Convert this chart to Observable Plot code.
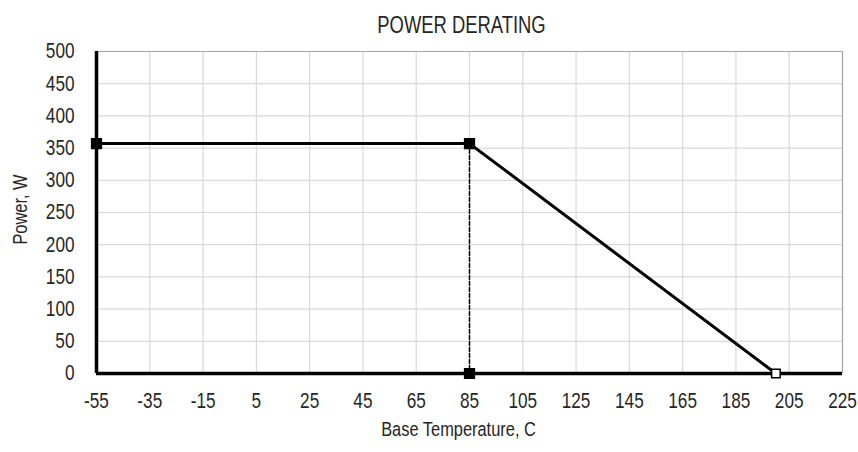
<!DOCTYPE html>
<html>
<head>
<meta charset="utf-8">
<script src="https://cdn.jsdelivr.net/npm/d3@7"></script>
<script src="https://cdn.jsdelivr.net/npm/@observablehq/plot@0.6"></script>
<style>
  html, body { margin: 0; padding: 0; background: #fff; }
  #chart svg { display: block; }
</style>
</head>
<body>
<div id="chart"></div>
<script>
const titleText = "POWER DERATING";
const xLabel = "Base Temperature, C";
const yLabel = "Power, W";
const xTicks = [-55, -35, -15, 5, 25, 45, 65, 85, 105, 125, 145, 165, 185, 205, 225];
const yTicks = [0, 50, 100, 150, 200, 250, 300, 350, 400, 450, 500];
const curveTemp = [-55, 85, 200];
const curvePower = [357, 357, 0];
const dropTemp = [85, 85];
const dropPower = [357, 0];
const filledTemp = [-55, 85, 85];
const filledPower = [357, 357, 0];
const openTemp = [200];
const openPower = [0];

const FONT = "'Liberation Sans', Arial, sans-serif";
const SQUEEZE = 0.8;

const curve = curveTemp.map((t, i) => ({t, p: curvePower[i]}));
const drop = dropTemp.map((t, i) => ({t, p: dropPower[i]}));
const filled = filledTemp.map((t, i) => ({t, p: filledPower[i]}));
const open = openTemp.map((t, i) => ({t, p: openPower[i]}));

const chart = Plot.plot({
  width: 858,
  height: 452,
  marginLeft: 96,
  marginRight: 16,
  marginTop: 51,
  marginBottom: 79,
  style: {fontFamily: FONT, fontSize: "21px", color: "#262626", background: "#fff"},
  x: {domain: [-55, 225]},
  y: {domain: [0, 500]},
  marks: [
    Plot.ruleX(xTicks, {stroke: "#d9d9d9", strokeWidth: 1.2}),
    Plot.ruleY(yTicks, {stroke: "#d9d9d9", strokeWidth: 1.2}),
    Plot.ruleY([500], {stroke: "#a6a6a6", strokeWidth: 1.2}),
    Plot.ruleX([225], {stroke: "#a6a6a6", strokeWidth: 1.2}),
    Plot.axisX({ticks: xTicks, tickSize: 0, tickPadding: 19, tickFormat: d => String(d).replace("−", "-"),
      label: null, fontSize: 21.5}),
    Plot.axisY({ticks: yTicks, tickSize: 0, tickPadding: 22, label: null, fontSize: 21.5}),
    Plot.text([xLabel], {frameAnchor: "bottom", textAnchor: "middle", dx: -11, dy: 62, fontSize: 20.5, fill: "#262626"}),
    Plot.text([yLabel], {frameAnchor: "left", textAnchor: "middle", dx: -76, dy: -3, rotate: -90, fontSize: 20.5, fill: "#262626"}),
    Plot.text([titleText], {frameAnchor: "top", textAnchor: "middle", dx: -8, dy: -35, fontSize: 23, fill: "#262626"}),
    Plot.ruleX([-55], {stroke: "#000", strokeWidth: 3.5}),
    Plot.ruleY([0], {stroke: "#000", strokeWidth: 3.5}),
    Plot.line(drop, {x: "t", y: "p", stroke: "#000", strokeWidth: 1.5, strokeDasharray: "4,2"}),
    Plot.line(curve, {x: "t", y: "p", stroke: "#000", strokeWidth: 3}),
    Plot.dot(filled, {x: "t", y: "p", symbol: "square", r: 5.5, fill: "#000", stroke: "#000"}),
    Plot.dot(open, {x: "t", y: "p", symbol: "square", r: 4.8, fill: "#fff", stroke: "#000", strokeWidth: 1.5})
  ]
});
document.getElementById("chart").appendChild(chart);

// Emulate a narrow (condensed) face by compressing glyphs horizontally.
chart.querySelectorAll("text").forEach(t => {
  const len = t.getComputedTextLength();
  if (len > 0) {
    t.setAttribute("textLength", (len * SQUEEZE).toFixed(2));
    t.setAttribute("lengthAdjust", "spacingAndGlyphs");
  }
});
</script>
</body>
</html>
